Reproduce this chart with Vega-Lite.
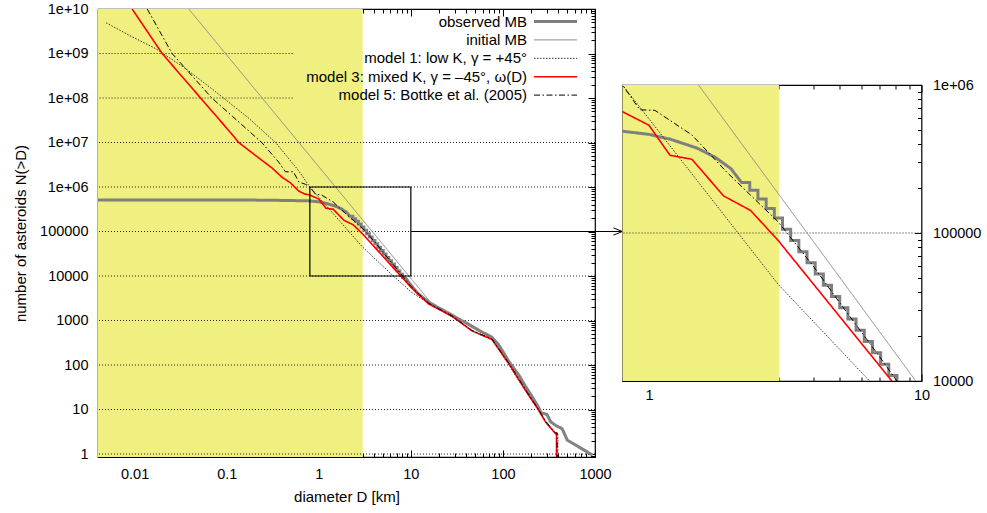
{
  "$schema": "https://vega.github.io/schema/vega-lite/v6.json",
  "background": "white",
  "padding": {"left": 12, "top": 0, "right": 5, "bottom": 5},
  "config": {
    "view": {"stroke": "black", "strokeWidth": 1.2},
    "axis": {"labelFont": "Liberation Sans", "labelFontSize": 14.5, "labelColor": "black", "titleFont": "Liberation Sans", "titleFontSize": 15, "titleFontWeight": "normal", "titleColor": "black", "tickColor": "black", "tickWidth": 1, "domain": false, "grid": false}
  },
  "datasets": {
    "curves": [
      {"s":"observed MB","i":0,"D":0.004,"N":510000},{"s":"observed MB","i":1,"D":0.05,"N":510000},{"s":"observed MB","i":2,"D":0.2,"N":508000},{"s":"observed MB","i":3,"D":0.4,"N":500000},{"s":"observed MB","i":4,"D":0.6,"N":493000},{"s":"observed MB","i":5,"D":0.8,"N":487000},{"s":"observed MB","i":6,"D":1.0,"N":464000},{"s":"observed MB","i":7,"D":1.2,"N":430000},{"s":"observed MB","i":8,"D":1.5,"N":375000},{"s":"observed MB","i":9,"D":1.75,"N":325000},{"s":"observed MB","i":10,"D":2.0,"N":272000},
      {"s":"observed MB","i":11,"D":2.188,"N":219000},{"s":"observed MB","i":12,"D":2.344,"N":219000},{"s":"observed MB","i":13,"D":2.344,"N":194500},{"s":"observed MB","i":14,"D":2.512,"N":194500},{"s":"observed MB","i":15,"D":2.512,"N":170000},{"s":"observed MB","i":16,"D":2.692,"N":170000},{"s":"observed MB","i":17,"D":2.692,"N":146600},{"s":"observed MB","i":18,"D":2.884,"N":146600},{"s":"observed MB","i":19,"D":2.884,"N":126200},{"s":"observed MB","i":20,"D":3.09,"N":126200},{"s":"observed MB","i":21,"D":3.09,"N":106200},{"s":"observed MB","i":22,"D":3.311,"N":106200},{"s":"observed MB","i":23,"D":3.311,"N":89100},{"s":"observed MB","i":24,"D":3.548,"N":89100},{"s":"observed MB","i":25,"D":3.548,"N":74800},{"s":"observed MB","i":26,"D":3.802,"N":74800},{"s":"observed MB","i":27,"D":3.802,"N":63000},{"s":"observed MB","i":28,"D":4.074,"N":63000},{"s":"observed MB","i":29,"D":4.074,"N":52800},{"s":"observed MB","i":30,"D":4.365,"N":52800},{"s":"observed MB","i":31,"D":4.365,"N":44400},{"s":"observed MB","i":32,"D":4.677,"N":44400},{"s":"observed MB","i":33,"D":4.677,"N":37200},{"s":"observed MB","i":34,"D":5.012,"N":37200},{"s":"observed MB","i":35,"D":5.012,"N":31300},{"s":"observed MB","i":36,"D":5.37,"N":31300},{"s":"observed MB","i":37,"D":5.37,"N":26200},{"s":"observed MB","i":38,"D":5.754,"N":26200},{"s":"observed MB","i":39,"D":5.754,"N":22000},{"s":"observed MB","i":40,"D":6.166,"N":22000},{"s":"observed MB","i":41,"D":6.166,"N":18500},{"s":"observed MB","i":42,"D":6.607,"N":18500},{"s":"observed MB","i":43,"D":6.607,"N":15500},{"s":"observed MB","i":44,"D":7.079,"N":15500},{"s":"observed MB","i":45,"D":7.079,"N":13000},{"s":"observed MB","i":46,"D":7.586,"N":13000},{"s":"observed MB","i":47,"D":7.586,"N":10900},{"s":"observed MB","i":48,"D":8.128,"N":10900},{"s":"observed MB","i":49,"D":8.128,"N":9200},{"s":"observed MB","i":50,"D":8.71,"N":9200},
      {"s":"observed MB","i":51,"D":10,"N":6300},{"s":"observed MB","i":52,"D":12,"N":4000},{"s":"observed MB","i":53,"D":15.6,"N":2600},{"s":"observed MB","i":54,"D":20,"N":1900},{"s":"observed MB","i":55,"D":28,"N":1300},{"s":"observed MB","i":56,"D":40,"N":880},{"s":"observed MB","i":57,"D":55,"N":600},{"s":"observed MB","i":58,"D":76,"N":420},{"s":"observed MB","i":59,"D":90,"N":280},{"s":"observed MB","i":60,"D":100,"N":200},{"s":"observed MB","i":61,"D":116,"N":120},{"s":"observed MB","i":62,"D":150,"N":58},{"s":"observed MB","i":63,"D":176,"N":33},{"s":"observed MB","i":64,"D":200,"N":22},{"s":"observed MB","i":65,"D":245,"N":11},{"s":"observed MB","i":66,"D":260,"N":8.4},{"s":"observed MB","i":67,"D":300,"N":7.8},{"s":"observed MB","i":68,"D":330,"N":5.3},{"s":"observed MB","i":69,"D":380,"N":4.3},{"s":"observed MB","i":70,"D":440,"N":3.7},{"s":"observed MB","i":71,"D":500,"N":2.05},{"s":"observed MB","i":72,"D":820,"N":1.12},{"s":"observed MB","i":73,"D":940,"N":0.95},

      {"s":"initial MB","i":0,"D":0.0387,"N":1e10},{"s":"initial MB","i":1,"D":16.3,"N":2600},{"s":"initial MB","i":2,"D":28,"N":1420},{"s":"initial MB","i":3,"D":46,"N":720},{"s":"initial MB","i":4,"D":76,"N":450},{"s":"initial MB","i":5,"D":90,"N":310},{"s":"initial MB","i":6,"D":100,"N":210},{"s":"initial MB","i":7,"D":116,"N":125},{"s":"initial MB","i":8,"D":150,"N":58},{"s":"initial MB","i":9,"D":176,"N":33},{"s":"initial MB","i":10,"D":200,"N":22},{"s":"initial MB","i":11,"D":245,"N":11},{"s":"initial MB","i":12,"D":260,"N":8.4},{"s":"initial MB","i":13,"D":300,"N":7.8},{"s":"initial MB","i":14,"D":330,"N":5.3},{"s":"initial MB","i":15,"D":380,"N":4.3},{"s":"initial MB","i":16,"D":440,"N":3.7},{"s":"initial MB","i":17,"D":500,"N":2.05},{"s":"initial MB","i":18,"D":820,"N":1.12},{"s":"initial MB","i":19,"D":940,"N":0.95},

      {"s":"model 1: low K, γ = +45°","i":0,"D":0.0049,"N":4.9e9},{"s":"model 1: low K, γ = +45°","i":1,"D":0.0094,"N":2.37e9},{"s":"model 1: low K, γ = +45°","i":2,"D":0.0168,"N":1.3e9},{"s":"model 1: low K, γ = +45°","i":3,"D":0.0357,"N":4.6e8},{"s":"model 1: low K, γ = +45°","i":4,"D":0.0755,"N":1.39e8},{"s":"model 1: low K, γ = +45°","i":5,"D":0.174,"N":3.5e7},{"s":"model 1: low K, γ = +45°","i":6,"D":0.339,"N":1.0e7},{"s":"model 1: low K, γ = +45°","i":7,"D":0.607,"N":2.3e6},{"s":"model 1: low K, γ = +45°","i":8,"D":0.8,"N":1.0e6},{"s":"model 1: low K, γ = +45°","i":9,"D":2.98,"N":45000},{"s":"model 1: low K, γ = +45°","i":10,"D":6.45,"N":10000},{"s":"model 1: low K, γ = +45°","i":11,"D":8.7,"N":5800},{"s":"model 1: low K, γ = +45°","i":12,"D":10,"N":4400},{"s":"model 1: low K, γ = +45°","i":13,"D":15.6,"N":2450},{"s":"model 1: low K, γ = +45°","i":14,"D":28,"N":1220},{"s":"model 1: low K, γ = +45°","i":15,"D":46,"N":580},{"s":"model 1: low K, γ = +45°","i":16,"D":76,"N":370},{"s":"model 1: low K, γ = +45°","i":17,"D":116,"N":100},{"s":"model 1: low K, γ = +45°","i":18,"D":176,"N":26},{"s":"model 1: low K, γ = +45°","i":19,"D":245,"N":9.3},{"s":"model 1: low K, γ = +45°","i":20,"D":290,"N":5.1},{"s":"model 1: low K, γ = +45°","i":21,"D":372,"N":2.8},{"s":"model 1: low K, γ = +45°","i":22,"D":395,"N":2.8},{"s":"model 1: low K, γ = +45°","i":23,"D":395,"N":0.3},

      {"s":"model 3: mixed K, γ = –45°, ω(D)","i":0,"D":0.0094,"N":1e10},{"s":"model 3: mixed K, γ = –45°, ω(D)","i":1,"D":0.0199,"N":1e9},{"s":"model 3: mixed K, γ = –45°, ω(D)","i":2,"D":0.052,"N":1e8},{"s":"model 3: mixed K, γ = –45°, ω(D)","i":3,"D":0.115,"N":1.5e7},{"s":"model 3: mixed K, γ = –45°, ω(D)","i":4,"D":0.135,"N":1e7},{"s":"model 3: mixed K, γ = –45°, ω(D)","i":5,"D":0.223,"N":4.5e6},{"s":"model 3: mixed K, γ = –45°, ω(D)","i":6,"D":0.311,"N":2.67e6},{"s":"model 3: mixed K, γ = –45°, ω(D)","i":7,"D":0.4,"N":1.65e6},{"s":"model 3: mixed K, γ = –45°, ω(D)","i":8,"D":0.49,"N":1.25e6},{"s":"model 3: mixed K, γ = –45°, ω(D)","i":9,"D":0.607,"N":810000},{"s":"model 3: mixed K, γ = –45°, ω(D)","i":10,"D":0.7,"N":700000},{"s":"model 3: mixed K, γ = –45°, ω(D)","i":11,"D":0.8,"N":660000},{"s":"model 3: mixed K, γ = –45°, ω(D)","i":12,"D":1.0,"N":535000},{"s":"model 3: mixed K, γ = –45°, ω(D)","i":13,"D":1.195,"N":335000},{"s":"model 3: mixed K, γ = –45°, ω(D)","i":14,"D":1.437,"N":315000},{"s":"model 3: mixed K, γ = –45°, ω(D)","i":15,"D":1.88,"N":178000},{"s":"model 3: mixed K, γ = –45°, ω(D)","i":16,"D":2.36,"N":142000},{"s":"model 3: mixed K, γ = –45°, ω(D)","i":17,"D":2.98,"N":89000},{"s":"model 3: mixed K, γ = –45°, ω(D)","i":18,"D":7.75,"N":10100},{"s":"model 3: mixed K, γ = –45°, ω(D)","i":19,"D":10,"N":5600},{"s":"model 3: mixed K, γ = –45°, ω(D)","i":20,"D":15.6,"N":2350},{"s":"model 3: mixed K, γ = –45°, ω(D)","i":21,"D":28,"N":1250},{"s":"model 3: mixed K, γ = –45°, ω(D)","i":22,"D":46,"N":590},{"s":"model 3: mixed K, γ = –45°, ω(D)","i":23,"D":76,"N":375},{"s":"model 3: mixed K, γ = –45°, ω(D)","i":24,"D":116,"N":107},{"s":"model 3: mixed K, γ = –45°, ω(D)","i":25,"D":176,"N":27},{"s":"model 3: mixed K, γ = –45°, ω(D)","i":26,"D":245,"N":9.6},{"s":"model 3: mixed K, γ = –45°, ω(D)","i":27,"D":290,"N":5.3},{"s":"model 3: mixed K, γ = –45°, ω(D)","i":28,"D":372,"N":2.9},{"s":"model 3: mixed K, γ = –45°, ω(D)","i":29,"D":382,"N":2.9},{"s":"model 3: mixed K, γ = –45°, ω(D)","i":30,"D":382,"N":0.3},

      {"s":"model 5: Bottke et al. (2005)","i":0,"D":0.0137,"N":1e10},{"s":"model 5: Bottke et al. (2005)","i":1,"D":0.0255,"N":1e9},{"s":"model 5: Bottke et al. (2005)","i":2,"D":0.069,"N":1e8},{"s":"model 5: Bottke et al. (2005)","i":3,"D":0.115,"N":3.9e7},{"s":"model 5: Bottke et al. (2005)","i":4,"D":0.24,"N":1e7},{"s":"model 5: Bottke et al. (2005)","i":5,"D":0.368,"N":3.6e6},{"s":"model 5: Bottke et al. (2005)","i":6,"D":0.434,"N":2.2e6},{"s":"model 5: Bottke et al. (2005)","i":7,"D":0.53,"N":2.2e6},{"s":"model 5: Bottke et al. (2005)","i":8,"D":0.607,"N":1.3e6},{"s":"model 5: Bottke et al. (2005)","i":9,"D":0.717,"N":1.15e6},{"s":"model 5: Bottke et al. (2005)","i":10,"D":0.8,"N":1.0e6},{"s":"model 5: Bottke et al. (2005)","i":11,"D":0.926,"N":680000},{"s":"model 5: Bottke et al. (2005)","i":12,"D":1.052,"N":674000},{"s":"model 5: Bottke et al. (2005)","i":13,"D":1.437,"N":460000},{"s":"model 5: Bottke et al. (2005)","i":14,"D":1.93,"N":258000},{"s":"model 5: Bottke et al. (2005)","i":15,"D":2.36,"N":180000},{"s":"model 5: Bottke et al. (2005)","i":16,"D":2.98,"N":119000},{"s":"model 5: Bottke et al. (2005)","i":17,"D":4,"N":60000},{"s":"model 5: Bottke et al. (2005)","i":18,"D":5,"N":34000},{"s":"model 5: Bottke et al. (2005)","i":19,"D":6,"N":21600},{"s":"model 5: Bottke et al. (2005)","i":20,"D":7,"N":14700},{"s":"model 5: Bottke et al. (2005)","i":21,"D":8,"N":10400},{"s":"model 5: Bottke et al. (2005)","i":22,"D":10,"N":5900},{"s":"model 5: Bottke et al. (2005)","i":23,"D":15.6,"N":2450},{"s":"model 5: Bottke et al. (2005)","i":24,"D":28,"N":1270},{"s":"model 5: Bottke et al. (2005)","i":25,"D":46,"N":600},{"s":"model 5: Bottke et al. (2005)","i":26,"D":76,"N":385},{"s":"model 5: Bottke et al. (2005)","i":27,"D":116,"N":110},{"s":"model 5: Bottke et al. (2005)","i":28,"D":176,"N":28},{"s":"model 5: Bottke et al. (2005)","i":29,"D":245,"N":9.8},{"s":"model 5: Bottke et al. (2005)","i":30,"D":290,"N":5.5},{"s":"model 5: Bottke et al. (2005)","i":31,"D":372,"N":3.0},{"s":"model 5: Bottke et al. (2005)","i":32,"D":388,"N":3.0},{"s":"model 5: Bottke et al. (2005)","i":33,"D":388,"N":0.3}
    ]
  },
  "hconcat": [
    {
      "width": 497,
      "height": 448,
      "layer": [
        {
          "data": {"values": [{}]},
          "mark": {"type": "rect", "color": "#f0f080", "clip": true},
          "encoding": {
            "x": {"datum": 0.001, "type": "quantitative", "scale": {"type": "log", "domain": [0.004, 1000], "nice": false},
                  "axis": {"orient": "top", "tickCount": 60, "labels": false, "title": null,
                           "tickSize": {"condition": {"test": "abs(log(datum.value)/LN10 - round(log(datum.value)/LN10)) < 0.001", "value": -7}, "value": -4}}},
            "x2": {"datum": 3}
          }
        },
        {
          "data": {"values": [{"N": 1}, {"N": 10}, {"N": 100}, {"N": 1000}, {"N": 10000}, {"N": 100000}, {"N": 1000000}, {"N": 10000000}]},
          "mark": {"type": "rule", "color": "#222222", "strokeDash": [1, 2], "strokeWidth": 1},
          "encoding": {
            "y": {"field": "N", "type": "quantitative", "scale": {"type": "log", "domain": [0.857, 1e10], "nice": false},
                  "axis": {"orient": "right", "tickCount": 100, "labels": false, "title": null,
                           "tickSize": {"condition": {"test": "abs(log(datum.value)/LN10 - round(log(datum.value)/LN10)) < 0.001", "value": -7}, "value": -4}}}
          }
        },
        {
          "data": {"values": [{"N": 100000000}, {"N": 1000000000}]},
          "mark": {"type": "rule", "color": "#222222", "strokeDash": [1, 2], "strokeWidth": 1, "clip": true},
          "encoding": {
            "y": {"field": "N", "type": "quantitative", "scale": {"type": "log", "domain": [0.857, 1e10], "nice": false}, "axis": null},
            "x": {"datum": 0.001, "type": "quantitative", "scale": {"type": "log", "domain": [0.004, 1000], "nice": false}, "axis": null},
            "x2": {"datum": 0.52}
          }
        },
        {
          "data": {"name": "curves"},
          "mark": {"type": "line", "clip": true},
          "encoding": {
            "x": {"field": "D", "type": "quantitative", "scale": {"type": "log", "domain": [0.004, 1000], "nice": false},
                  "axis": {"orient": "bottom", "tickCount": 60, "labelFlush": false, "labelOverlap": false, "labelPadding": 17.5,
                           "labelExpr": "abs(log(datum.value)/LN10 - round(log(datum.value)/LN10)) < 0.001 ? format(datum.value, '~g') : ''",
                           "tickSize": {"condition": {"test": "abs(log(datum.value)/LN10 - round(log(datum.value)/LN10)) < 0.001", "value": -7}, "value": -4},
                           "title": "diameter D [km]", "titlePadding": 5}},
            "y": {"field": "N", "type": "quantitative", "scale": {"type": "log", "domain": [0.857, 1e10], "nice": false},
                  "axis": {"orient": "left", "tickCount": 100, "labelFlush": false, "labelOverlap": false, "labelPadding": 17,
                           "labelExpr": "abs(log(datum.value)/LN10 - round(log(datum.value)/LN10)) < 0.001 ? (datum.value >= 1000000 ? '1e+' + (round(log(datum.value)/LN10) < 10 ? '0' : '') + round(log(datum.value)/LN10) : format(datum.value, 'd')) : ''",
                           "tickSize": {"condition": {"test": "abs(log(datum.value)/LN10 - round(log(datum.value)/LN10)) < 0.001", "value": -7}, "value": -4},
                           "title": "number of asteroids N(>D)", "titlePadding": 11.5}},
            "color": {"field": "s", "type": "nominal",
                      "scale": {"domain": ["observed MB", "initial MB", "model 1: low K, γ = +45°", "model 3: mixed K, γ = –45°, ω(D)", "model 5: Bottke et al. (2005)"],
                                "range": ["#7f7f7f", "#8a8a8a", "#333333", "#ff0000", "#000000"]},
                      "legend": {"title": null, "orient": "none", "legendX": 450, "legendY": 5, "symbolType": "stroke", "symbolSize": 1849,
                                 "labelAlign": "right", "labelOffset": -36, "labelFontSize": 15, "labelFont": "Liberation Sans", "labelColor": "black", "labelLimit": 400, "rowPadding": 2.4, "padding": 0,
                                 "encode": {"symbols": {"update": {"strokeWidth": {"signal": "datum.value == 'observed MB' ? 3 : (datum.value == 'model 3: mixed K, γ = –45°, ω(D)' ? 1.6 : 1)"}}}}}},
            "strokeDash": {"field": "s", "type": "nominal",
                           "scale": {"domain": ["observed MB", "initial MB", "model 1: low K, γ = +45°", "model 3: mixed K, γ = –45°, ω(D)", "model 5: Bottke et al. (2005)"],
                                     "range": [[1, 0], [1, 0], [1.5, 1.5], [1, 0], [6, 2.5, 1.5, 2.5]]},
                           "legend": {"title": null, "orient": "none", "legendX": 450, "legendY": 5, "symbolType": "stroke", "symbolSize": 1849,
                                      "labelAlign": "right", "labelOffset": -36, "labelFontSize": 15, "labelFont": "Liberation Sans", "labelColor": "black", "labelLimit": 400, "rowPadding": 2.4, "padding": 0,
                                      "encode": {"symbols": {"update": {"strokeWidth": {"signal": "datum.value == 'observed MB' ? 3 : (datum.value == 'model 3: mixed K, γ = –45°, ω(D)' ? 1.6 : 1)"}}}}}},
            "strokeWidth": {"condition": [{"test": "datum.s == 'observed MB'", "value": 3}, {"test": "datum.s == 'model 3: mixed K, γ = –45°, ω(D)'", "value": 1.6}], "value": 1},
            "order": {"field": "i", "type": "quantitative"}
          }
        },
        {
          "data": {"values": [{}]},
          "mark": {"type": "rect", "filled": false, "color": "black", "strokeWidth": 1.2},
          "encoding": {
            "x": {"datum": 0.8, "type": "quantitative", "scale": {"type": "log", "domain": [0.004, 1000], "nice": false}, "axis": null},
            "x2": {"datum": 10},
            "y": {"datum": 10000, "type": "quantitative", "scale": {"type": "log", "domain": [0.857, 1e10], "nice": false}, "axis": null},
            "y2": {"datum": 1000000}
          }
        },
        {
          "data": {"values": [{}]},
          "mark": {"type": "rule", "color": "black", "strokeWidth": 1},
          "encoding": {
            "x": {"datum": 10, "type": "quantitative", "scale": {"type": "log", "domain": [0.004, 1000], "nice": false}, "axis": null},
            "x2": {"datum": 1985},
            "y": {"datum": 100000, "type": "quantitative", "scale": {"type": "log", "domain": [0.857, 1e10], "nice": false}, "axis": null}
          }
        },
        {
          "data": {"values": [{}]},
          "mark": {"type": "point", "shape": "M-1,-0.4L0,0L-1,0.4", "size": 324, "filled": false, "color": "black", "strokeWidth": 1, "opacity": 1},
          "encoding": {
            "x": {"datum": 1985, "type": "quantitative", "scale": {"type": "log", "domain": [0.004, 1000], "nice": false}, "axis": null},
            "y": {"datum": 100000, "type": "quantitative", "scale": {"type": "log", "domain": [0.857, 1e10], "nice": false}, "axis": null}
          }
        }
      ],
      "resolve": {"axis": {"x": "independent", "y": "independent"}}
    },
    {
      "width": 299,
      "height": 296,
      "layer": [
        {
          "data": {"values": [{}]},
          "mark": {"type": "rect", "color": "#f0f080", "clip": true},
          "encoding": {
            "x": {"datum": 0.1, "type": "quantitative", "scale": {"type": "log", "domain": [0.8, 10], "nice": false},
                  "axis": {"orient": "top", "tickCount": 20, "labels": false, "title": null,
                           "tickSize": {"condition": {"test": "abs(log(datum.value)/LN10 - round(log(datum.value)/LN10)) < 0.001", "value": -7}, "value": -4}}},
            "x2": {"datum": 3}
          }
        },
        {
          "data": {"values": [{"N": 100000}]},
          "mark": {"type": "rule", "color": "#222222", "strokeDash": [1, 2], "strokeWidth": 1},
          "encoding": {
            "y": {"field": "N", "type": "quantitative", "scale": {"type": "log", "domain": [10000, 1000000], "nice": false}, "axis": null}
          }
        },
        {
          "data": {"name": "curves"},
          "mark": {"type": "line", "clip": true},
          "encoding": {
            "x": {"field": "D", "type": "quantitative", "scale": {"type": "log", "domain": [0.8, 10], "nice": false},
                  "axis": {"orient": "bottom", "tickCount": 20, "labelFlush": false, "labelOverlap": false, "labelPadding": 14,
                           "labelExpr": "abs(log(datum.value)/LN10 - round(log(datum.value)/LN10)) < 0.001 ? format(datum.value, '~g') : ''",
                           "tickSize": {"condition": {"test": "abs(log(datum.value)/LN10 - round(log(datum.value)/LN10)) < 0.001", "value": -7}, "value": -4},
                           "title": null}},
            "y": {"field": "N", "type": "quantitative", "scale": {"type": "log", "domain": [10000, 1000000], "nice": false},
                  "axis": {"orient": "right", "tickCount": 30, "labelFlush": false, "labelOverlap": false, "labelPadding": 18,
                           "labelExpr": "abs(log(datum.value)/LN10 - round(log(datum.value)/LN10)) < 0.001 ? (datum.value >= 1000000 ? '1e+' + (round(log(datum.value)/LN10) < 10 ? '0' : '') + round(log(datum.value)/LN10) : format(datum.value, 'd')) : ''",
                           "tickSize": {"condition": {"test": "abs(log(datum.value)/LN10 - round(log(datum.value)/LN10)) < 0.001", "value": -7}, "value": -4},
                           "title": null}},
            "color": {"field": "s", "type": "nominal",
                      "scale": {"domain": ["observed MB", "initial MB", "model 1: low K, γ = +45°", "model 3: mixed K, γ = –45°, ω(D)", "model 5: Bottke et al. (2005)"],
                                "range": ["#7f7f7f", "#8a8a8a", "#333333", "#ff0000", "#000000"]},
                      "legend": null},
            "strokeDash": {"field": "s", "type": "nominal",
                           "scale": {"domain": ["observed MB", "initial MB", "model 1: low K, γ = +45°", "model 3: mixed K, γ = –45°, ω(D)", "model 5: Bottke et al. (2005)"],
                                     "range": [[1, 0], [1, 0], [1.5, 1.5], [1, 0], [6, 2.5, 1.5, 2.5]]},
                           "legend": null},
            "strokeWidth": {"condition": [{"test": "datum.s == 'observed MB'", "value": 3}, {"test": "datum.s == 'model 3: mixed K, γ = –45°, ω(D)'", "value": 1.6}], "value": 1},
            "order": {"field": "i", "type": "quantitative"}
          }
        }
      ],
      "resolve": {"axis": {"x": "independent", "y": "independent"}}
    }
  ],
  "spacing": 27.5,
  "bounds": "flush",
  "center": true,
  "resolve": {"scale": {"x": "independent", "y": "independent", "color": "shared", "strokeDash": "shared"}}
}
